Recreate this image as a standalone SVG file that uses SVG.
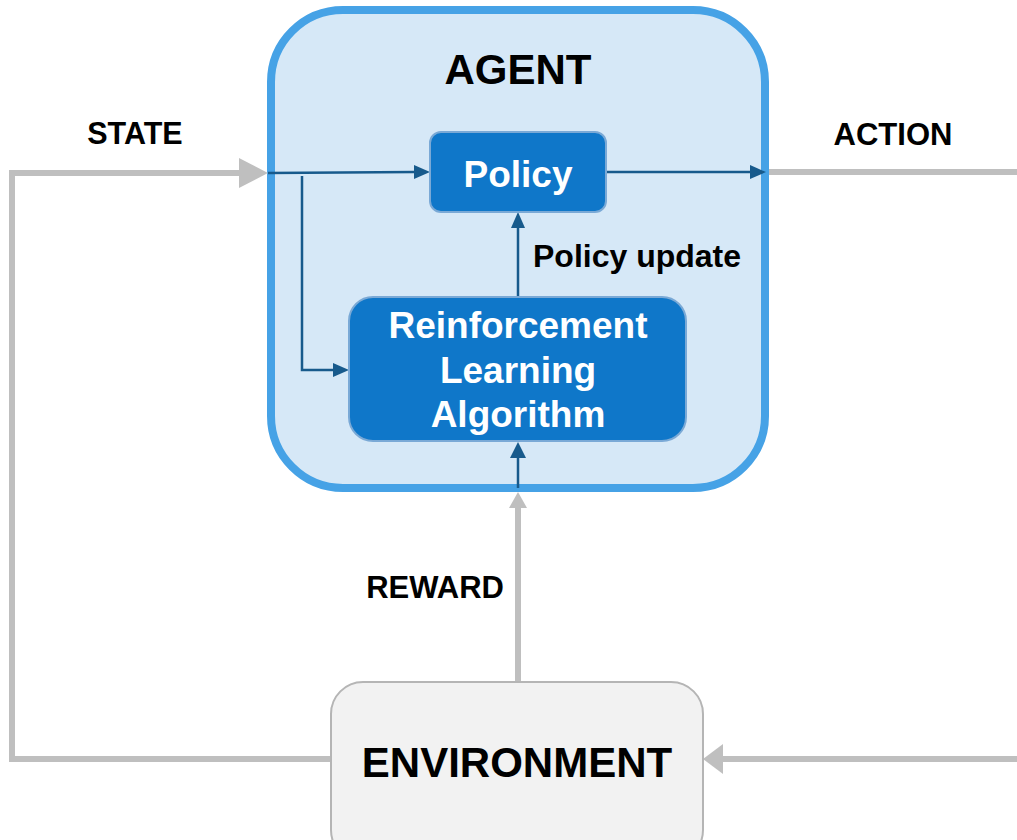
<svg xmlns="http://www.w3.org/2000/svg" width="1017" height="840" viewBox="0 0 1017 840">
<style>
.lbl{font-family:"Liberation Sans",Arial,sans-serif;font-weight:bold;fill:#000}
.wht{font-family:"Liberation Sans",Arial,sans-serif;font-weight:bold;fill:#fff}
.gray{stroke:#bfbfbf;stroke-width:6;fill:none}
.blue{stroke:#175a8c;stroke-width:2.5;fill:none}
.inner{fill:#0f77c9;stroke:#7aa9d6;stroke-width:2}
</style>
<rect width="1017" height="840" fill="#fff"/>

<g id="agent">
<rect x="271" y="10" width="494" height="478" rx="72" ry="72" fill="#d6e8f7" stroke="#46a2e6" stroke-width="8"/>
<text class="lbl" x="518" y="84" font-size="42" text-anchor="middle">AGENT</text>
</g>

<g id="connectors">
<polyline class="gray" points="331,759 12,759 12,173 242,173"/>
<path d="M239,158 L268,173 L239,188 z" fill="#bfbfbf"/>
<line class="gray" x1="769" y1="172" x2="1017" y2="172"/>
<line class="gray" x1="1017" y1="759" x2="720" y2="759"/>
<path d="M723,744 L703,759 L723,774 z" fill="#bfbfbf"/>
<line class="gray" x1="518" y1="683" x2="518" y2="505" stroke-width="5"/>
<path d="M509,508 L518,492 L527,508 z" fill="#bfbfbf"/>
<path d="M268,173 L415,172" class="blue"/>
<path d="M414,165 L430,172 L414,179 z" fill="#175a8c"/>
<polyline class="blue" points="302,176 302,370 335,370"/>
<path d="M333,363 L349,370 L333,377 z" fill="#175a8c"/>
<line class="blue" x1="606" y1="172" x2="752" y2="172"/>
<path d="M750,165 L766,172 L750,179 z" fill="#175a8c"/>
<line class="blue" x1="518" y1="297" x2="518" y2="226"/>
<path d="M511,228 L518,212 L525,228 z" fill="#175a8c"/>
<line class="blue" x1="518" y1="488" x2="518" y2="456"/>
<path d="M510,458 L518,442 L526,458 z" fill="#175a8c"/>
</g>

<g id="policy">
<rect class="inner" x="430" y="132" width="176" height="80" rx="11" ry="11"/>
<text class="wht" x="518" y="187" font-size="37" text-anchor="middle">Policy</text>
</g>

<g id="rl">
<rect class="inner" x="349" y="297" width="337" height="144" rx="24" ry="24"/>
<text class="wht" x="518" y="338" font-size="37" text-anchor="middle">Reinforcement</text>
<text class="wht" x="518" y="383" font-size="37" text-anchor="middle">Learning</text>
<text class="wht" x="518" y="427" font-size="37" text-anchor="middle">Algorithm</text>
</g>

<g id="environment">
<rect x="331" y="682" width="372" height="180" rx="32" ry="32" fill="#f2f2f2" stroke="#b5b5b5" stroke-width="2"/>
<text class="lbl" x="517" y="777" font-size="42" text-anchor="middle">ENVIRONMENT</text>
</g>

<g id="labels">
<text class="lbl" x="135" y="144" font-size="30.5" text-anchor="middle">STATE</text>
<text class="lbl" x="893" y="145" font-size="31" text-anchor="middle">ACTION</text>
<text class="lbl" x="533" y="267" font-size="32">Policy update</text>
<text class="lbl" x="504" y="598" font-size="31" text-anchor="end">REWARD</text>
</g>
</svg>
